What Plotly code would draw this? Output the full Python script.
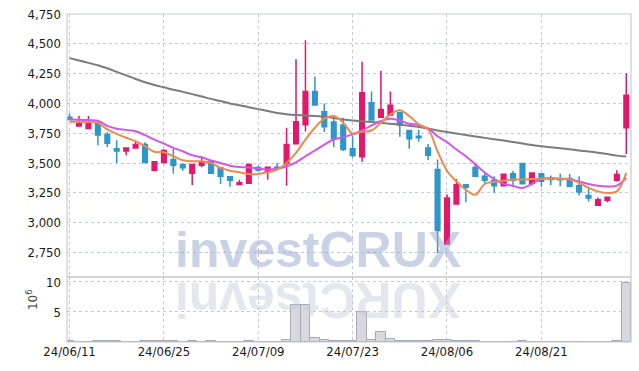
import plotly.graph_objects as go

dates = ["24/06/11","24/06/12","24/06/13","24/06/14","24/06/17","24/06/18","24/06/19","24/06/20","24/06/21","24/06/24",
         "24/06/25","24/06/26","24/06/27","24/06/28","24/07/01","24/07/02","24/07/03","24/07/04","24/07/05","24/07/08",
         "24/07/09","24/07/10","24/07/11","24/07/12","24/07/15","24/07/16","24/07/17","24/07/18","24/07/19","24/07/22",
         "24/07/23","24/07/24","24/07/25","24/07/26","24/07/29","24/07/30","24/07/31","24/08/01","24/08/02","24/08/05",
         "24/08/06","24/08/07","24/08/08","24/08/09","24/08/12","24/08/13","24/08/14","24/08/16","24/08/19","24/08/20",
         "24/08/21","24/08/22","24/08/23","24/08/26","24/08/27","24/08/28","24/08/29","24/08/30","24/09/02","24/09/03"]

opens = [3885,3810,3790,3845,3740,3620,3600,3625,3655,3440, 3505,3530,3487,3415,3482,3510,3460,3385,3320,3330,
         3462,3432,3465,3495,3661,3820,4100,3930,3845,3818, 3620,3552,4005,3885,3902,3922,3773,3725,3627,3445,
         2820,3156,3318,3462,3390,3355,3310,3410,3495,3330, 3410,3375,3368,3370,3310,3228,3145,3187,3355,3795]
highs = [3916,3895,3895,3845,3760,3690,3630,3680,3675,3515, 3615,3620,3490,3490,3555,3525,3465,3390,3360,3490,
         3478,3470,3500,3795,4370,4530,4225,4000,3880,3880, 3725,4350,4100,4275,4100,3930,3775,3780,3660,3530,
         3235,3365,3320,3500,3415,3390,3410,3436,3495,3420, 3410,3395,3410,3410,3390,3300,3210,3215,3440,4253]
lows = [3860,3805,3785,3650,3635,3500,3565,3620,3500,3430, 3495,3410,3435,3315,3465,3410,3325,3300,3318,3325,
        3430,3360,3450,3310,3655,3765,3985,3760,3635,3600, 3545,3510,3860,3880,3895,3720,3620,3678,3525,2745,
        2815,3150,3170,3385,3325,3250,3305,3300,3320,3313, 3300,3315,3305,3300,3228,3178,3140,3172,3345,3575]
closes = [3865,3830,3830,3735,3665,3600,3625,3655,3505,3510, 3605,3480,3460,3487,3505,3415,3390,3355,3335,3487,
          3440,3465,3458,3655,3846,4100,3987,3805,3705,3613, 3563,4090,3860,3950,3984,3818,3703,3713,3565,2935,
          3207,3318,3296,3390,3355,3310,3405,3355,3327,3417, 3348,3362,3360,3305,3257,3206,3192,3212,3403,4068]

ma_short = [3846,3846,3843,3838,3782,3745,3712,3683,3641,3594, 3591,3557,3523,3515,3515,3501,3459,3436,3422,3408,
            3408,3422,3445,3501,3585,3697,3796,3872,3894,3838, 3748,3762,3773,3838,3908,3942,3894,3824,3782,3599,
            3435,3346,3276,3234,3324,3341,3352,3361,3361,3366, 3369,3369,3369,3365,3333,3291,3262,3249,3262,3417]
ma_mid = [3865,3862,3860,3855,3812,3788,3778,3767,3734,3697, 3662,3627,3599,3565,3548,3521,3501,3478,3467,3462,
          3455,3445,3452,3472,3506,3557,3605,3655,3697,3717, 3740,3773,3815,3852,3872,3855,3830,3818,3790,3725,
          3675,3613,3557,3490,3420,3365,3325,3308,3290,3325, 3370,3369,3369,3361,3346,3324,3310,3304,3310,3375]
ma_long = [4380,4360,4340,4320,4295,4265,4235,4205,4178,4155, 4135,4115,4097,4078,4058,4038,4020,4000,3985,3968,
           3952,3936,3920,3910,3903,3898,3895,3888,3878,3865, 3856,3850,3844,3838,3830,3822,3812,3803,3790,3773,
           3760,3747,3735,3723,3711,3700,3688,3676,3664,3651, 3640,3632,3624,3615,3605,3597,3587,3575,3562,3555]

volume_m = [0.1,0.05,0.05,0.1,0.1,0.1,0.05,0.05,0.1,0.1, 0.1,0.1,0.05,0.1,0.05,0.1,0.05,0.05,0.05,0.1,
            0.05,0.05,0.05,0.35,6.1,6.1,0.6,0.35,0.15,0.2, 0.2,4.95,0.4,1.6,0.45,0.2,0.1,0.1,0.15,0.3,
            0.3,0.15,0.1,0.1,0.05,0.05,0.05,0.05,0.1,0.05, 0.05,0.05,0.05,0.05,0.05,0.05,0.05,0.05,0.1,9.8]

tick_dates = ["24/06/11","24/06/25","24/07/09","24/07/23","24/08/06","24/08/21"]
price_ticks = [2750,3000,3250,3500,3750,4000,4250,4500,4750]
vol_ticks = [5,10]

idx = list(range(len(dates)))
tickvals = [dates.index(d) for d in tick_dates]

UP = "#e2186a"
DOWN = "#2f96c9"
GRID = "#c4c8dc"
TICKFONT = dict(family="DejaVu Sans Condensed, Liberation Sans Narrow, sans-serif", size=13, color="#1a1a1a")

fig = go.Figure()
fig.add_trace(go.Bar(x=idx, y=volume_m, yaxis="y2",
                     marker=dict(color="#d8d8de", line=dict(color="#a9a9b6", width=1)),
                     showlegend=False, hoverinfo="skip"))
fig.add_trace(go.Scatter(x=idx, y=ma_long, mode="lines", line=dict(color="#7c7c7c", width=2, shape="spline"),
                         showlegend=False))
fig.add_trace(go.Scatter(x=idx, y=ma_mid, mode="lines", line=dict(color="#d455ee", width=2, shape="spline"),
                         showlegend=False))
fig.add_trace(go.Scatter(x=idx, y=ma_short, mode="lines", line=dict(color="#f08a4c", width=2, shape="spline"),
                         showlegend=False))
fig.add_trace(go.Candlestick(x=idx, open=opens, high=highs, low=lows, close=closes,
                             increasing=dict(line=dict(color=UP, width=1.5), fillcolor=UP),
                             decreasing=dict(line=dict(color=DOWN, width=1.5), fillcolor=DOWN),
                             showlegend=False))

top_px, bot_px, sep_px = 14, 342, 277
split = (bot_px - sep_px) / (bot_px - top_px)

fig.update_layout(
    template="none",
    width=639, height=371,
    margin=dict(l=67, r=8, t=14, b=29),
    paper_bgcolor="white", plot_bgcolor="white",
    bargap=0,
    xaxis=dict(range=[-0.27, 59.5], tickvals=tickvals, ticktext=tick_dates, anchor="y2",
               automargin=False,
               showgrid=True, gridcolor=GRID, griddash="dot", gridwidth=1,
               zeroline=False, showline=False, ticks="",
               tickfont=TICKFONT,
               rangeslider=dict(visible=False)),
    yaxis=dict(domain=[split, 1], range=[2544, 4750], tickvals=price_ticks, tickformat=",",
               automargin=False,
               showgrid=True, gridcolor=GRID, griddash="dot", zeroline=False, showline=False, ticks="",
               ticklabelstandoff=5, tickfont=TICKFONT),
    yaxis2=dict(domain=[0, split], range=[0, 10.83], tickvals=vol_ticks,
                automargin=False,
                showgrid=True, gridcolor=GRID, griddash="dot", zeroline=False, showline=False, ticks="",
                ticklabelstandoff=5, tickfont=TICKFONT),
    shapes=[
        dict(type="rect", xref="paper", yref="paper", x0=0, x1=1, y0=0, y1=1,
             line=dict(color="#c9cbd8", width=1.2)),
        dict(type="line", xref="paper", yref="paper", x0=0, x1=1, y0=split, y1=split,
             line=dict(color="#c6c6ce", width=1.5)),
    ],
    annotations=[
        dict(text="investCRUX", xref="paper", yref="paper", x=0.445, y=0.28, xanchor="center", yanchor="middle",
             showarrow=False, font=dict(family="Liberation Sans, Arial, sans-serif", size=50,
                                        color="rgba(150,165,205,0.5)", weight="bold")),
        dict(text="XURCtsevni", xref="paper", yref="paper", x=0.445, y=0.13, xanchor="center", yanchor="middle",
             textangle=180, showarrow=False,
             font=dict(family="Liberation Sans, Arial, sans-serif", size=50,
                       color="rgba(200,200,218,0.45)", weight="bold")),
        dict(text="10<sup>6</sup>", xref="paper", yref="paper", x=-0.062, y=0.128, xanchor="center", yanchor="middle",
             textangle=-90, showarrow=False, font=dict(family="DejaVu Sans, sans-serif", size=12, color="#444")),
    ],
)

fig.write_html("out.html", config={"displayModeBar": False},
               post_script="document.body.style.margin='0';document.body.style.overflow='hidden';")
